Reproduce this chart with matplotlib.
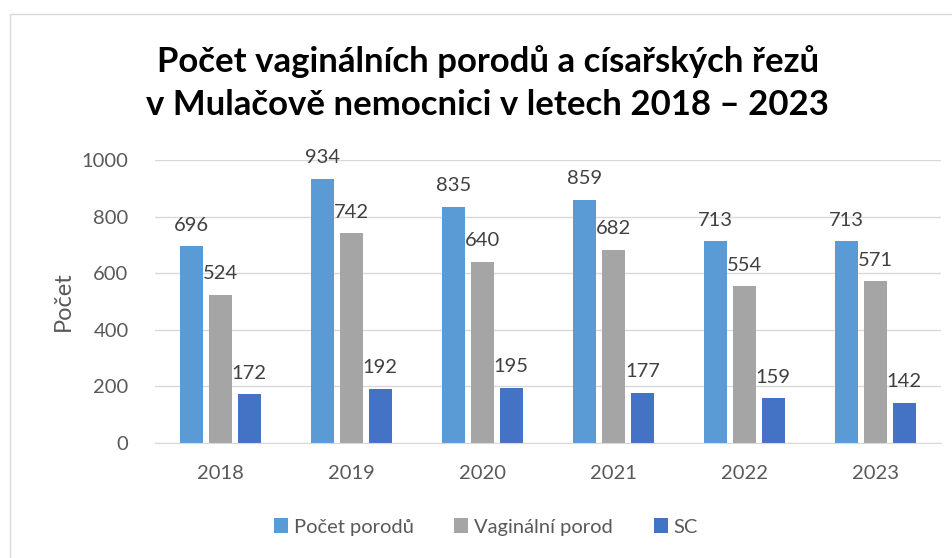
import matplotlib

matplotlib.use("Agg")
import matplotlib.pyplot as plt
import numpy as np
from matplotlib.patches import Rectangle

years = ["2018", "2019", "2020", "2021", "2022", "2023"]
porody = [696, 934, 835, 859, 713, 713]
vaginalni = [524, 742, 640, 682, 554, 571]
sc = [172, 192, 195, 177, 159, 142]

series_names = ["Počet porodů", "Vaginální porod", "SC"]
colors = ["#5B9BD5", "#A5A5A5", "#4472C4"]

plt.rcParams["font.family"] = ["Lato", "DejaVu Sans"]
text_color = "#595959"

fig = plt.figure(figsize=(9.53, 5.58), dpi=100)
fig.patches.append(Rectangle((10 / 953, -0.1), 1.1, 1 - 14 / 558 + 0.1,
                             transform=fig.transFigure, fill=False,
                             edgecolor="#D9D9D9", linewidth=1))

ax = fig.add_axes([155 / 953, 1 - 443 / 558, 786 / 953, 283 / 558])

x = np.arange(len(years))
width = 0.175
offsets = [-0.22, 0.0, 0.22]
for vals, name, color, off in zip([porody, vaginalni, sc], series_names, colors, offsets):
    bars = ax.bar(x + off, vals, width, color=color, label=name, zorder=2)
    for b, v in zip(bars, vals):
        ax.annotate(str(v), (b.get_x() + b.get_width() / 2, v),
                    xytext=(0, 9), textcoords="offset points",
                    ha="center", va="bottom", fontsize=14.5, color="#404040")

ax.set_xlim(-0.5, len(years) - 0.5)
ax.set_ylim(0, 1000)
ax.set_yticks(range(0, 1001, 200))
ax.set_xticks(x)
ax.set_xticklabels(years)
ax.grid(axis="y", color="#D9D9D9", linewidth=1, zorder=0)
ax.tick_params(length=0, labelsize=14.5, colors=text_color)
ax.tick_params(axis="y", pad=19)
ax.tick_params(axis="x", pad=16)
for s in ["top", "right", "left"]:
    ax.spines[s].set_visible(False)
ax.spines["bottom"].set_color("#D9D9D9")
ax.set_ylabel("Počet", fontsize=17, color=text_color, labelpad=6)

fig.text(0.512, 1 - 83 / 558,
         "Počet vaginálních porodů a císařských řezů\nv Mulačově nemocnici v letech 2018 – 2023",
         ha="center", va="center", fontsize=25, fontweight="bold",
         linespacing=1.4, color="black")

fig.legend(loc="center", bbox_to_anchor=(0.51, 1 - 527 / 558), ncol=3,
           frameon=False, fontsize=14.5, handlelength=0.7, handleheight=0.7,
           handletextpad=0.3, columnspacing=2.0, labelcolor=text_color)

fig.savefig("out.png", dpi=100)
